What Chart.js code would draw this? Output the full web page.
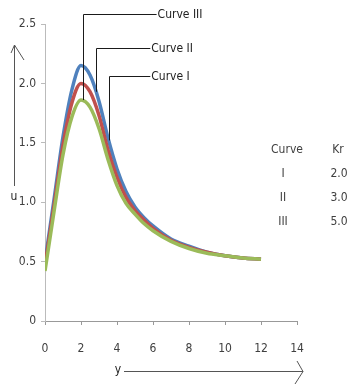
<!DOCTYPE html>
<html>
<head>
<meta charset="utf-8">
<script src="https://cdn.jsdelivr.net/npm/chart.js@4/dist/chart.umd.min.js"></script>
<style>
  html, body { margin: 0; padding: 0; background: #fff; }
  #wrap { position: relative; width: 348px; height: 385px; }
</style>
</head>
<body>
<div id="wrap"><canvas id="chart" width="348" height="385"></canvas></div>
<script>
const yPos = [0, 0.5, 1, 1.5, 2, 2.5, 3, 3.5, 4, 4.5, 5, 5.5, 6, 7, 8, 9, 10, 11, 12];
const curveI   = [0.42, 0.92, 1.40, 1.72, 1.86, 1.80, 1.62, 1.36, 1.14, 0.99, 0.90, 0.82, 0.76, 0.67, 0.61, 0.57, 0.55, 0.53, 0.52];
const curveII  = [0.47, 0.97, 1.48, 1.84, 2.00, 1.93, 1.73, 1.44, 1.21, 1.04, 0.93, 0.85, 0.78, 0.68, 0.62, 0.58, 0.55, 0.53, 0.52];
const curveIII = [0.50, 1.02, 1.55, 1.95, 2.15, 2.07, 1.85, 1.54, 1.28, 1.09, 0.96, 0.87, 0.80, 0.69, 0.63, 0.58, 0.55, 0.53, 0.52];

const curveNames = ["I", "II", "III"];
const krValues = ["2.0", "3.0", "5.0"];

// callout leader lines, in data units: x of the drop line, top and bottom of it, end of the horizontal
const callouts = [
  { label: "Curve III", x: 2.12, top: 2.58, bottom: 1.86, end: 6.2 },
  { label: "Curve II", x: 2.85, top: 2.30, bottom: 1.93, end: 5.85 },
  { label: "Curve I", x: 3.55, top: 2.06, bottom: 1.52, end: 5.85 },
];

const FONT = '"Liberation Sans Narrow", "DejaVu Sans Condensed", sans-serif';
const TEXT = "#404040";

const toPoints = (vals) => vals.map((v, i) => ({ x: yPos[i], y: v }));

const makeSet = (label, vals, color) => ({
  label: label,
  data: toPoints(vals),
  borderColor: color,
  backgroundColor: color,
  borderWidth: 3.5,
  pointRadius: 0,
  cubicInterpolationMode: "monotone",
  fill: false,
});

const extras = {
  id: "extras",
  afterDraw(chart) {
    const ctx = chart.ctx;
    const xs = chart.scales.x;
    const ys = chart.scales.y;
    ctx.save();

    // callouts
    ctx.strokeStyle = "#1a1a1a";
    ctx.lineWidth = 1;
    ctx.font = "12px " + FONT;
    ctx.fillStyle = "#222";
    ctx.textBaseline = "middle";
    callouts.forEach((c) => {
      const px = Math.round(xs.getPixelForValue(c.x)) + 0.5;
      const pt = Math.round(ys.getPixelForValue(c.top)) + 0.5;
      const pb = ys.getPixelForValue(c.bottom);
      const pe = xs.getPixelForValue(c.end);
      ctx.beginPath();
      ctx.moveTo(px, pb);
      ctx.lineTo(px, pt);
      ctx.lineTo(pe, pt);
      ctx.stroke();
      ctx.fillText(c.label, pe + 1, pt);
    });

    // small table of Kr
    ctx.fillStyle = TEXT;
    ctx.textAlign = "center";
    ctx.fillText("Curve", 287, 150);
    ctx.fillText("Kr", 338, 150);
    curveNames.forEach((n, i) => {
      ctx.fillText(n, 283, 174 + i * 24);
      ctx.fillText(krValues[i], 339, 174 + i * 24);
    });

    // axis arrows and titles
    ctx.strokeStyle = "#555";
    ctx.lineWidth = 1;
    ctx.beginPath();
    ctx.moveTo(14.5, 186);
    ctx.lineTo(14.5, 45);
    ctx.moveTo(11, 53);
    ctx.lineTo(14.5, 45);
    ctx.lineTo(24, 60);
    ctx.stroke();
    ctx.fillStyle = "#222";
    ctx.fillText("u", 14, 197);

    ctx.beginPath();
    ctx.moveTo(124, 371.5);
    ctx.lineTo(303, 371.5);
    ctx.moveTo(297, 361);
    ctx.lineTo(303, 371.5);
    ctx.lineTo(295, 384);
    ctx.stroke();
    ctx.fillText("y", 118, 370);
    ctx.restore();
  },
};

new Chart(document.getElementById("chart"), {
  type: "line",
  data: {
    datasets: [
      makeSet("Curve I", curveI, "#9BBB59"),
      makeSet("Curve II", curveII, "#C0504D"),
      makeSet("Curve III", curveIII, "#4F81BD"),
    ],
  },
  options: {
    responsive: false,
    animation: false,
    layout: { padding: { top: 24, right: 51, left: 0, bottom: 0 } },
    plugins: {
      legend: { display: false },
      tooltip: { enabled: false },
    },
    scales: {
      x: {
        type: "linear",
        min: 0,
        max: 14,
        ticks: { stepSize: 2, color: TEXT, font: { family: FONT, size: 12 }, padding: 17, maxRotation: 0 },
        grid: { drawOnChartArea: false, tickLength: 4, color: "#999" },
        border: { color: "#999" },
        afterFit: (s) => { s.height = 64; },
      },
      y: {
        min: 0,
        max: 2.5,
        ticks: { stepSize: 0.5, color: TEXT, font: { family: FONT, size: 12 }, padding: 5 },
        grid: { drawOnChartArea: false, tickLength: 4, color: "#bbb" },
        border: { color: "#bbb" },
        afterFit: (s) => { s.width = 45; },
      },
    },
  },
  plugins: [extras],
});
</script>
</body>
</html>
